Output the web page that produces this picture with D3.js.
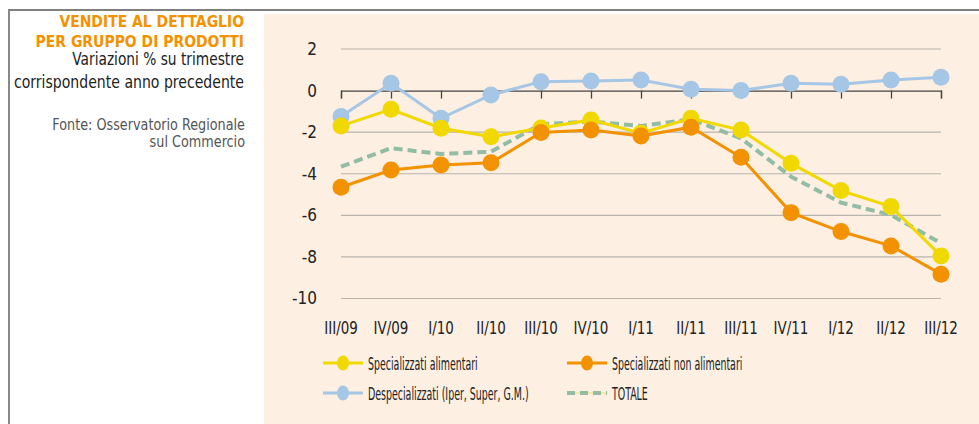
<!DOCTYPE html>
<html>
<head>
<meta charset="utf-8">
<script src="https://cdn.jsdelivr.net/npm/d3@7"></script>
<style>
  body { margin: 0; background: #fff; }
  svg { display: block; }
  text { font-family: "DejaVu Sans Condensed", "Liberation Sans Narrow", sans-serif; }
</style>
</head>
<body>
<div id="chart"></div>
<script>
// quarters
var categories = ["III/09", "IV/09", "I/10", "II/10", "III/10", "IV/10", "I/11", "II/11", "III/11", "IV/11", "I/12", "II/12", "III/12"];
var alimentari = [-1.70, -0.90, -1.81, -2.22, -1.80, -1.41, -2.05, -1.33, -1.90, -3.50, -4.81, -5.58, -7.95];
var nonAlimentari = [-4.65, -3.82, -3.58, -3.47, -2.02, -1.90, -2.18, -1.76, -3.21, -5.87, -6.78, -7.47, -8.83];
var despecializzati = [-1.25, 0.35, -1.33, -0.21, 0.43, 0.46, 0.51, 0.06, 0.00, 0.35, 0.30, 0.51, 0.64];
var totale = [-3.66, -2.77, -3.05, -2.94, -1.61, -1.49, -1.70, -1.38, -2.30, -4.14, -5.39, -5.98, -7.34];
var yTicks = [2, 0, -2, -4, -6, -8, -10];

var W = 979, H = 424;
var svg = d3.select("#chart").append("svg")
    .attr("width", W)
    .attr("height", H);

// squeeze text horizontally (condensed look) via a transform
function squeeze(sel, k) {
  sel.each(function() {
    var t = d3.select(this);
    var px = +t.attr("x") || 0, py = +t.attr("y") || 0;
    t.attr("x", 0).attr("y", 0)
      .attr("transform", "translate(" + px + "," + py + ") scale(" + k + ",1)");
  });
}

// panel background + frame
svg.append("rect").attr("x", 264).attr("y", 14).attr("width", W - 264).attr("height", H - 14).attr("fill", "#fdefe1");
svg.append("line").attr("x1", 8).attr("y1", 10).attr("x2", W).attr("y2", 10).attr("stroke", "#555").attr("stroke-width", 1.5);
svg.append("line").attr("x1", 9).attr("y1", 10).attr("x2", 9).attr("y2", H).attr("stroke", "#888").attr("stroke-width", 2);

// title block
var tx = 244;
svg.append("text").attr("x", tx).attr("y", 27).attr("text-anchor", "end")
    .style("font-size", "15.5px").style("font-weight", "bold").attr("fill", "#f39200")
    .text("VENDITE AL DETTAGLIO");
svg.append("text").attr("x", tx).attr("y", 47).attr("text-anchor", "end")
    .style("font-size", "15.5px").style("font-weight", "bold").attr("fill", "#f39200")
    .text("PER GRUPPO DI PRODOTTI");
svg.append("text").attr("x", tx).attr("y", 65).attr("text-anchor", "end")
    .style("font-size", "17px").attr("fill", "#222")
    .text("Variazioni % su trimestre")
    .call(squeeze, 0.9);
svg.append("text").attr("x", tx).attr("y", 88).attr("text-anchor", "end")
    .style("font-size", "17px").attr("fill", "#222")
    .text("corrispondente anno precedente")
    .call(squeeze, 0.92);
svg.append("text").attr("x", tx + 1).attr("y", 130).attr("text-anchor", "end")
    .style("font-size", "15px").attr("fill", "#555")
    .text("Fonte: Osservatorio Regionale")
    .call(squeeze, 0.95);
svg.append("text").attr("x", tx + 1).attr("y", 147).attr("text-anchor", "end")
    .style("font-size", "15px").attr("fill", "#555")
    .text("sul Commercio")
    .call(squeeze, 0.95);

// scales
var x = d3.scalePoint().domain(categories).range([341, 941]);
var y = d3.scaleLinear().domain([-10, 2]).range([298.5, 49]);

// gridlines (not at 0)
svg.append("g").selectAll("line")
    .data(yTicks.filter(function(d) { return d !== 0; }))
    .join("line")
    .attr("x1", 341).attr("x2", 941)
    .attr("y1", function(d) { return y(d); })
    .attr("y2", function(d) { return y(d); })
    .attr("stroke", "#b9b4ae").attr("stroke-width", 1.2);

// y labels
var yAxis = svg.append("g").attr("transform", "translate(322,0)")
    .call(d3.axisLeft(y).tickValues(yTicks).tickSize(0).tickPadding(5).tickFormat(function(d) { return String(d); }));
yAxis.select(".domain").remove();
yAxis.selectAll("text").style("font-size", "17px").attr("fill", "#222").style("font-family", "'DejaVu Sans Condensed', sans-serif");

// zero axis with ticks
var xAxis = svg.append("g").attr("transform", "translate(0," + y(0) + ")")
    .call(d3.axisBottom(x).tickSize(8).tickFormat(""));
xAxis.select(".domain").attr("stroke", "#444").attr("stroke-width", 1.3);
xAxis.selectAll(".tick line").attr("stroke", "#444").attr("stroke-width", 1.3);

// category labels
svg.append("g").selectAll("text")
    .data(categories)
    .join("text")
    .attr("x", function(d) { return x(d); })
    .attr("y", 334)
    .attr("text-anchor", "middle")
    .style("font-size", "17px").attr("fill", "#222")
    .text(function(d) { return d; })
    .call(squeeze, 0.88);

var line = d3.line()
    .x(function(d, i) { return x(categories[i]); })
    .y(function(d) { return y(d); });

var series = [
  { name: "Despecializzati", values: despecializzati, color: "#a5c6e4" },
  { name: "Specializzati alimentari", values: alimentari, color: "#f0d800" },
  { name: "Specializzati non alimentari", values: nonAlimentari, color: "#f39200" }
];

// totale dashed
svg.append("path")
    .attr("d", line(totale))
    .attr("fill", "none")
    .attr("stroke", "#93bca5")
    .attr("stroke-width", 4)
    .attr("stroke-dasharray", "9,5");

series.forEach(function(s) {
  svg.append("path")
      .attr("d", line(s.values))
      .attr("fill", "none")
      .attr("stroke", s.color)
      .attr("stroke-width", 3);
  svg.append("g").selectAll("circle")
      .data(s.values)
      .join("circle")
      .attr("cx", function(d, i) { return x(categories[i]); })
      .attr("cy", function(d) { return y(d); })
      .attr("r", 8.5)
      .attr("fill", s.color);
});

// legend
var legend = [
  { label: "Specializzati alimentari", color: "#f0d800", lx: 323, ly: 363, dash: false },
  { label: "Specializzati non alimentari", color: "#f39200", lx: 567, ly: 363, dash: false },
  { label: "Despecializzati (Iper, Super, G.M.)", color: "#a5c6e4", lx: 323, ly: 393, dash: false },
  { label: "TOTALE", color: "#93bca5", lx: 567, ly: 393, dash: true }
];
legend.forEach(function(l) {
  if (l.dash) {
    svg.append("line").attr("x1", l.lx).attr("y1", l.ly).attr("x2", l.lx + 40).attr("y2", l.ly)
        .attr("stroke", "#f5dc70").attr("stroke-width", 1);
    svg.append("line").attr("x1", l.lx).attr("y1", l.ly).attr("x2", l.lx + 40).attr("y2", l.ly)
        .attr("stroke", l.color).attr("stroke-width", 4).attr("stroke-dasharray", "8,5");
  } else {
    svg.append("line").attr("x1", l.lx).attr("y1", l.ly).attr("x2", l.lx + 40).attr("y2", l.ly)
        .attr("stroke", l.color).attr("stroke-width", 3);
    svg.append("ellipse").attr("cx", l.lx + 20).attr("cy", l.ly).attr("rx", 6).attr("ry", 7.5)
        .attr("fill", l.color);
  }
  svg.append("text").attr("x", l.lx + 45).attr("y", l.ly + 6.5)
      .style("font-size", "17.5px").attr("fill", "#222")
      .text(l.label)
      .call(squeeze, 0.6);
});
</script>
</body>
</html>
